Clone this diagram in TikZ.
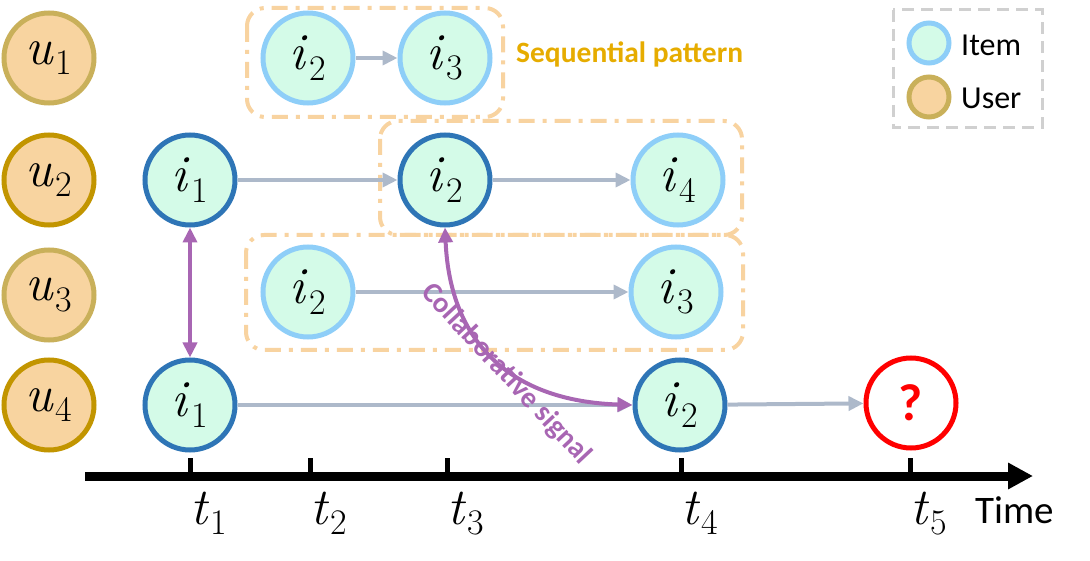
\documentclass[tikz,border=0pt]{standalone}
\usepackage{fontspec}
\newfontfamily\carl{Carlito}
\usetikzlibrary{arrows.meta}
\definecolor{peach}{HTML}{F8D4A0}
\definecolor{ugoldl}{HTML}{C9B05A}
\definecolor{ugoldd}{HTML}{C29500}
\definecolor{mint}{HTML}{D4FBE8}
\definecolor{ltblue}{HTML}{8ECEF8}
\definecolor{dkblue}{HTML}{2E75B6}
\definecolor{agray}{HTML}{ADB9CA}
\definecolor{purp}{HTML}{A866B3}
\definecolor{odash}{HTML}{F8D3A0}
\definecolor{seqc}{HTML}{E6AC00}
\definecolor{lgray}{HTML}{D0D0D0}
\newcommand\mfs{\fontsize{52}{58}\selectfont}
\newcommand\vsub[2]{\textit{#1}\kern0.03em\raisebox{-0.2em}{\fontsize{36}{40}\selectfont #2}}
\tikzset{
  itemn/.style={circle, draw=ltblue, fill=mint, line width=5pt, minimum size=90pt, inner sep=0pt, font=\mfs},
  itemd/.style={itemn, draw=dkblue},
  usern/.style={circle, draw=ugoldl, fill=peach, line width=5pt, minimum size=90pt, inner sep=0pt, font=\mfs},
  userd/.style={usern, draw=ugoldd},
  qnode/.style={circle, draw=red, fill=white, line width=5pt, minimum size=90pt, inner sep=0pt, font=\carl\bfseries\fontsize{52}{56}\selectfont, text=red},
  seqarrow/.style={draw=agray, line width=4pt, -{Triangle[length=15pt,width=14pt]}},
  colarrow/.style={draw=purp, line width=4pt, {Triangle[length=15pt,width=14pt]}-{Triangle[length=15pt,width=14pt]}},
  patbox/.style={draw=odash, line width=4pt, rounded corners=18pt, dash pattern=on 16pt off 8pt on 4pt off 8pt},
  legbox/.style={draw=lgray, line width=3pt, dash pattern=on 12pt off 7pt},
  legitem/.style={circle, draw=ltblue, fill=mint, line width=5pt, minimum size=40pt, inner sep=0pt},
  leguser/.style={circle, draw=ugoldl, fill=peach, line width=5pt, minimum size=40pt, inner sep=0pt},
  tlab/.style={anchor=base west, inner sep=0pt, font=\mfs},
  tick/.style={line width=5pt},
}
\begin{document}
\begin{tikzpicture}[x=1pt,y=-1pt]
\useasboundingbox (0,0) rectangle (1090,561);
% pattern boxes
\draw[patbox] (247,8) rectangle (503,117);
\draw[patbox] (380,121) rectangle (742,235);
\draw[patbox] (246,235) rectangle (743,350);
% legend
\draw[legbox] (893,10) rectangle (1042,128);
\node[legitem] (li) at (929,43) {};
\node[leguser] (lu) at (929,97) {};
\node[anchor=west, inner sep=0pt, font=\carl\fontsize{32}{38}\selectfont] (lit) at (961,45) {Item};
\node[anchor=west, inner sep=0pt, font=\carl\fontsize{32}{38}\selectfont] (lut) at (961,98) {User};
% users
\node[usern] (u1) at (49,58) {\vsub{u}{1}};
\node[userd] (u2) at (49,180) {\vsub{u}{2}};
\node[usern] (u3) at (49,295) {\vsub{u}{3}};
\node[userd] (u4) at (49,405) {\vsub{u}{4}};
% items
\node[itemn] (r1a) at (308,58) {\vsub{i}{2}};
\node[itemn] (r1b) at (445,58) {\vsub{i}{3}};
\node[itemd] (r2a) at (190,180) {\vsub{i}{1}};
\node[itemd] (r2b) at (445,180) {\vsub{i}{2}};
\node[itemn] (r2c) at (678,180) {\vsub{i}{4}};
\node[itemn] (r3a) at (308,292) {\vsub{i}{2}};
\node[itemn] (r3b) at (676,292) {\vsub{i}{3}};
\node[itemd] (r4a) at (190,405) {\vsub{i}{1}};
\node[itemd] (r4b) at (680,405) {\vsub{i}{2}};
\node[qnode] (q) at (911,403) {?};
% sequential arrows
\draw[seqarrow] (r1a) -- (r1b);
\draw[seqarrow] (r2a) -- (r2b);
\draw[seqarrow] (r2b) -- (r2c);
\draw[seqarrow] (r3a) -- (r3b);
\draw[seqarrow] (r4a) -- (r4b);
\draw[seqarrow] (r4b) -- (q);
% labels
\node[anchor=west, inner sep=0pt, text=seqc, font=\carl\bfseries\fontsize{29.5}{34}\selectfont] (seq) at (516,54) {Sequential pattern};
\node[rotate=-47, inner sep=0pt, text=purp, font=\carl\bfseries\fontsize{29}{34}\selectfont] (col) at (506,374) {Collaborative signal};
% collaborative arrows
\draw[colarrow] (r2a) -- (r4a);
\draw[colarrow] (r2b.south) .. controls +(5,115) and +(-122,-4) .. (r4b.west);
% time axis
\coordinate (ax0) at (85,476);
\coordinate (ax1) at (1033,476);
\draw[line width=9pt, -{Triangle[length=25pt,width=25pt]}] (ax0) -- (ax1);
\foreach \x/\n in {190/1,310/2,447/3,681/4,910/5}{
  \draw[tick] (\x,458) -- (\x,478);
  \node[tlab] (t\n) at (\x,524) {\vsub{t}{\n}};
}
\node[anchor=base west, inner sep=0pt, font=\carl\fontsize{39}{44}\selectfont] (time) at (975,523) {Time};
\end{tikzpicture}
\end{document}
